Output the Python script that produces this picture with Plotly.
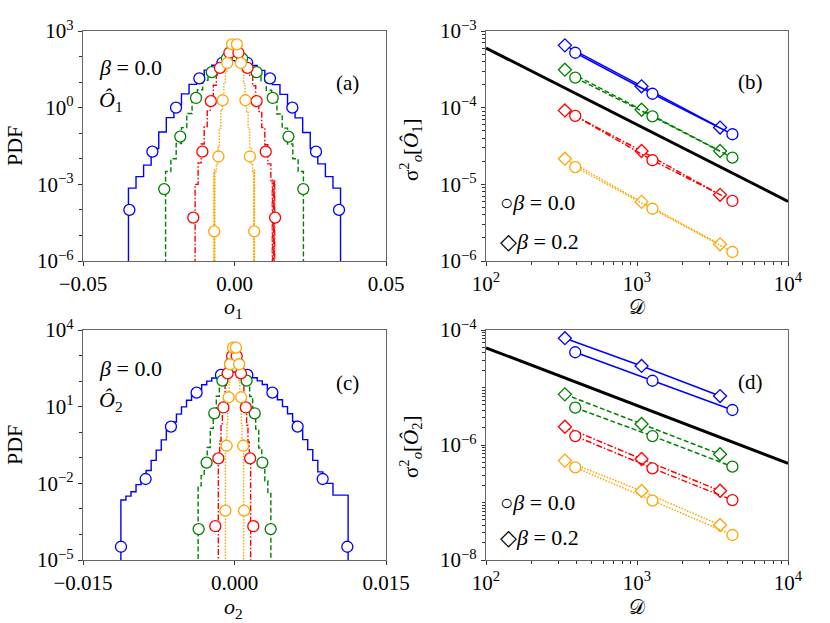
import numpy as np
import plotly.graph_objects as go
from plotly.subplots import make_subplots

# colours of the four series (same in every panel)
BLUE, GREEN, RED, ORANGE = "#0000ff", "#008000", "#ff0000", "#ffa500"

# ---------------- panel (a): PDF of o_1, beta = 0.0 ----------------
# step histograms: bin edges + log10(PDF)
a_blue_edges = np.linspace(-0.035, 0.035, 29)
a_blue_logpdf = [-3.15, -2.7, -2.25, -1.6, -0.95, -0.39, 0.10, 0.54, 0.91, 1.22, 1.47, 1.66, 1.78, 1.84,
                 1.83, 1.77, 1.65, 1.46, 1.2, 0.9, 0.52, 0.08, -0.4, -0.97, -1.6, -2.2, -2.7, -3.15]
a_green_edges = np.linspace(-0.02275, 0.02275, 27)
a_green_logpdf = [-2.5, -2.0, -1.4, -0.78, -0.23, 0.27, 0.70, 1.07, 1.38, 1.62, 1.81, 1.93, 1.99,
                  1.98, 1.92, 1.80, 1.60, 1.37, 1.05, 0.68, 0.25, -0.25, -0.8, -1.42, -2.0, -2.5]
a_red_edges = np.linspace(-0.013, 0.013, 27)
a_red_logpdf = [-3.0, -2.16, -1.42, -0.74, -0.13, 0.40, 0.88, 1.28, 1.62, 1.89, 2.09, 2.22, 2.29,
                2.28, 2.21, 2.08, 1.88, 1.60, 1.27, 0.86, 0.38, -0.15, -0.78, -1.45, -2.2, -2.85]
a_orange_edges = np.linspace(-0.0065, 0.0065, 27)
a_orange_logpdf = [-2.5, -2.2, -1.55, -0.80, -0.13, 0.46, 0.98, 1.43, 1.80, 2.10, 2.32, 2.47, 2.54,
                   2.53, 2.46, 2.31, 2.08, 1.78, 1.41, 0.95, 0.43, -0.16, -0.85, -1.6, -2.2, -2.5]
# sparse far-tail bins (0 = empty bin)
a_red_tail_edges = [0.0124, 0.01255, 0.0128, 0.01295, 0.0132, 0.01335]
a_red_tail_pdf = [1.5e-3, 0, 1.2e-3, 0, 1.4e-3]
a_orange_tailL_edges = [-0.0069, -0.0068, -0.00665, -0.00655]
a_orange_tailL_pdf = [3e-3, 0, 4e-3]
a_orange_tailR_edges = [0.0063, 0.0064, 0.00655, 0.00665]
a_orange_tailR_pdf = [3.5e-3, 0, 4e-3]
# open markers
a_blue_mx = [-0.0347, -0.0271, -0.0193, -0.0116, -0.0040, 0.0042, 0.0117, 0.0191, 0.0269, 0.0345]
a_blue_my = [1.0e-4, 0.019, 1.0, 14, 57, 57, 14, 1.0, 0.019, 1.0e-4]
a_green_mx = [-0.0232, -0.0179, -0.0127, -0.0075, -0.0025, 0.0025, 0.0073, 0.0126, 0.0178, 0.0227]
a_green_my = [6.5e-4, 0.074, 2.4, 24.5, 85, 85, 24.5, 2.4, 0.074, 6.5e-4]
a_red_mx = [-0.0136, -0.0106, -0.0078, -0.0048, -0.0017, 0.0013, 0.0043, 0.0073, 0.0103, 0.0134]
a_red_my = [5e-5, 0.019, 1.8, 36, 141, 141, 36, 1.8, 0.019, 5e-5]
a_orange_mx = [-0.0067, -0.0053, -0.0039, -0.0024, -0.0008, 0.0008, 0.0021, 0.0036, 0.0051, 0.0065]
a_orange_my = [1.45e-5, 0.0123, 1.95, 56, 300, 300, 56, 1.95, 0.0123, 1.45e-5]

# ---------------- panel (c): PDF of o_2, beta = 0.0 ----------------
c_blue_edges = np.linspace(-0.01125, 0.01125, 46)
c_blue_logpdf = [-2.65, -2.5, -2.33, -2.05, -1.85, -1.5, -1.1, -0.7, -0.3, 0.07, 0.4, 0.71, 0.99, 1.25, 1.48,
                 1.68, 1.86, 2.0, 2.12, 2.22, 2.29, 2.33, 2.35, 2.34, 2.3, 2.23, 2.13, 2.01, 1.87, 1.69, 1.5,
                 1.27, 1.0, 0.72, 0.42, 0.08, -0.29, -0.68, -1.1, -1.55, -2.0, -2.0, -2.46, -2.46, -2.46]
c_green_edges = np.linspace(-0.0036, 0.0036, 25)
c_green_logpdf = [-2.1, -1.7, -1.3, -0.6, 0.15, 0.84, 1.41, 1.89, 2.27, 2.55, 2.74, 2.84,
                  2.84, 2.73, 2.54, 2.26, 1.88, 1.40, 0.82, 0.12, -0.62, -1.35, -1.9, -2.4]
c_red_edges = np.linspace(-0.0016, 0.0016, 25)
c_red_logpdf = [-1.05, -0.35, 0.29, 0.88, 1.39, 1.84, 2.23, 2.55, 2.81, 3.0, 3.13, 3.19,
                3.19, 3.12, 2.99, 2.8, 2.54, 2.22, 1.83, 1.37, 0.86, 0.27, -0.38, -1.1]
c_orange_edges = np.linspace(-0.0009, 0.0009, 25)
c_orange_logpdf = [-0.5, -0.2, 0.31, 0.93, 1.48, 1.96, 2.37, 2.72, 2.99, 3.19, 3.32, 3.39,
                   3.39, 3.31, 3.18, 2.98, 2.71, 2.36, 1.95, 1.47, 0.92, 0.3, -0.22, -0.5]
c_blue_mx = [-0.01124, -0.0088, -0.00629, -0.00375, -0.00134, 0.00127, 0.00375, 0.00625, 0.00873, 0.01117]
c_blue_my = [3.3e-5, 0.0148, 1.66, 35.5, 174, 174, 35.5, 1.66, 0.0148, 3.3e-5]
c_green_mx = [-0.00355, -0.00276, -0.0020, -0.0012, -0.0004, 0.0004, 0.0012, 0.0020, 0.00276, 0.00358]
c_green_my = [1.62e-4, 0.065, 5.5, 105, 500, 500, 105, 5.5, 0.065, 1.62e-4]
c_red_mx = [-0.0019, -0.0016, -0.0011, -0.00068, -0.00024, 0.00022, 0.00064, 0.00112, 0.00155, 0.00186]
c_red_my = [2.1e-4, 0.095, 9.3, 200, 955, 955, 200, 9.3, 0.095, 2.1e-4]
c_orange_mx = [-0.0009, -0.00078, -0.00058, -0.00044, -0.00014, 0.00014, 0.00046, 0.00066, 0.00086, 0.00095]
c_orange_my = [8.5e-4, 0.295, 23.4, 457, 2040, 2040, 457, 23.4, 0.295, 8.5e-4]

# ---------------- panels (b), (d): variance vs D ----------------
D_beta00 = [390, 1266, 4285]
D_beta02 = [333, 1072, 3548]
ref_D = [1e2, 1e4]

b_blue_b00 = [5.2e-4, 1.52e-4, 4.5e-5]
b_blue_b02 = [6.5e-4, 1.9e-4, 5.5e-5]
b_green_b00 = [2.46e-4, 7.7e-5, 2.23e-5]
b_green_b02 = [3.13e-4, 9.4e-5, 2.72e-5]
b_red_b00 = [7.8e-5, 2.06e-5, 6.07e-6]
b_red_b02 = [9.2e-5, 2.72e-5, 7.3e-6]
b_orange_b00 = [1.68e-5, 4.8e-6, 1.31e-6]
b_orange_b02 = [2.16e-5, 5.9e-6, 1.65e-6]
b_ref = [6.0e-4, 6.0e-6]

d_blue_b00 = [4.1e-5, 1.31e-5, 4.06e-6]
d_blue_b02 = [7.2e-5, 2.37e-5, 7.1e-6]
d_green_b00 = [4.46e-6, 1.43e-6, 4.2e-7]
d_green_b02 = [7.6e-6, 2.32e-6, 6.9e-7]
d_red_b00 = [1.43e-6, 3.93e-7, 1.1e-7]
d_red_b02 = [2.08e-6, 5.7e-7, 1.6e-7]
d_orange_b00 = [4.09e-7, 1.08e-7, 2.72e-8]
d_orange_b02 = [5.35e-7, 1.59e-7, 4.06e-8]
d_ref = [4.9e-5, 4.8e-7]

FLOOR = 1e-12  # stand-in for empty bins on the log axis
DASH = {BLUE: "solid", GREEN: "5px,2.5px", RED: "6px,2px,1.5px,2px", ORANGE: "1.5px,1.5px"}


def step_trace(edges, pdf, color, xa, ya, width=1.4):
    pdf = [v if v > 0 else FLOOR for v in pdf]
    xs = [edges[0]] + list(edges)
    ys = [FLOOR] + pdf + [FLOOR]
    return go.Scatter(x=xs, y=ys, mode="lines", line_shape="hv", xaxis=xa, yaxis=ya,
                      line=dict(color=color, width=width, dash=DASH[color]), hoverinfo="skip")


def marker_trace(x, y, color, xa, ya, symbol="circle", mode="markers"):
    size = 11 if symbol == "circle" else 10
    return go.Scatter(x=x, y=y, mode=mode, xaxis=xa, yaxis=ya,
                      line=dict(color=color, width=1.5, dash=DASH[color]),
                      marker=dict(symbol=symbol, size=size, color="white", line=dict(color=color, width=1.3)))


fig = make_subplots(rows=2, cols=2)

hists_a = [
    (a_blue_edges, a_blue_logpdf, a_blue_mx, a_blue_my, BLUE),
    (a_green_edges, a_green_logpdf, a_green_mx, a_green_my, GREEN),
    (a_red_edges, a_red_logpdf, a_red_mx, a_red_my, RED),
    (a_orange_edges, a_orange_logpdf, a_orange_mx, a_orange_my, ORANGE),
]
hists_c = [
    (c_blue_edges, c_blue_logpdf, c_blue_mx, c_blue_my, BLUE),
    (c_green_edges, c_green_logpdf, c_green_mx, c_green_my, GREEN),
    (c_red_edges, c_red_logpdf, c_red_mx, c_red_my, RED),
    (c_orange_edges, c_orange_logpdf, c_orange_mx, c_orange_my, ORANGE),
]
for hists, xa, ya in [(hists_a, "x", "y"), (hists_c, "x3", "y3")]:
    for edges, logpdf, mx, my, col in hists:
        fig.add_trace(step_trace(edges, [10 ** v for v in logpdf], col, xa, ya))
    if xa == "x":
        fig.add_trace(step_trace(a_red_tail_edges, a_red_tail_pdf, RED, xa, ya, width=0.9))
        fig.add_trace(step_trace(a_orange_tailL_edges, a_orange_tailL_pdf, ORANGE, xa, ya, width=0.9))
        fig.add_trace(step_trace(a_orange_tailR_edges, a_orange_tailR_pdf, ORANGE, xa, ya, width=0.9))
    for edges, logpdf, mx, my, col in hists:
        fig.add_trace(marker_trace(mx, my, col, xa, ya))

var_b = [(b_blue_b00, b_blue_b02, BLUE), (b_green_b00, b_green_b02, GREEN),
         (b_red_b00, b_red_b02, RED), (b_orange_b00, b_orange_b02, ORANGE)]
var_d = [(d_blue_b00, d_blue_b02, BLUE), (d_green_b00, d_green_b02, GREEN),
         (d_red_b00, d_red_b02, RED), (d_orange_b00, d_orange_b02, ORANGE)]
for series, ref, xa, ya in [(var_b, b_ref, "x2", "y2"), (var_d, d_ref, "x4", "y4")]:
    fig.add_trace(go.Scatter(x=ref_D, y=ref, mode="lines", xaxis=xa, yaxis=ya,
                             line=dict(color="black", width=3)))
    for v00, v02, col in series:
        fig.add_trace(marker_trace(D_beta02, v02, col, xa, ya, symbol="diamond", mode="lines+markers"))
        fig.add_trace(marker_trace(D_beta00, v00, col, xa, ya, symbol="circle", mode="lines+markers"))


def pw(n):
    return "10<sup>" + str(n).replace("-", "−") + "</sup>"


axis_style = dict(showline=True, mirror=True, linecolor="#666666", linewidth=1.2, ticks="outside",
                  ticklen=4, tickwidth=1, tickcolor="#333333", showgrid=False, zeroline=False,
                  automargin=False, tickfont=dict(size=21, color="black"))
minor_log = dict(ticks="outside", ticklen=2.5, tickwidth=0.8, tickcolor="#333333", dtick="D1", showgrid=False)

X_LEFT = [83 / 830, 386 / 830]
X_RIGHT = [486 / 830, 788 / 830]
Y_TOP = [1 - 261 / 623, 1 - 31 / 623]
Y_BOT = [1 - 560 / 623, 1 - 330 / 623]

fig.update_xaxes(axis_style)
fig.update_yaxes(axis_style)

fig.update_xaxes(row=1, col=1, domain=X_LEFT, range=[-0.05, 0.05], tickvals=[-0.05, 0, 0.05],
                 ticktext=["−0.05", "0.00", "0.05"])
fig.update_yaxes(row=1, col=1, domain=Y_TOP, type="log", range=[-6, 3],
                 tickvals=[1e-6, 1e-3, 1, 1e3], ticktext=[pw(-6), pw(-3), pw(0), pw(3)],
                 minor=dict(ticks="outside", ticklen=2.5, tickwidth=0.8, tickcolor="#333333", dtick=1))
fig.update_xaxes(row=2, col=1, domain=X_LEFT, range=[-0.015, 0.015], tickvals=[-0.015, 0, 0.015],
                 ticktext=["−0.015", "0.000", "0.015"])
fig.update_yaxes(row=2, col=1, domain=Y_BOT, type="log", range=[-5, 4],
                 tickvals=[1e-5, 1e-2, 1e1, 1e4], ticktext=[pw(-5), pw(-2), pw(1), pw(4)],
                 minor=dict(ticks="outside", ticklen=2.5, tickwidth=0.8, tickcolor="#333333", dtick=1))
for r in (1, 2):
    fig.update_xaxes(row=r, col=2, domain=X_RIGHT, type="log", range=[2, 4],
                     tickvals=[1e2, 1e3, 1e4], ticktext=[pw(2), pw(3), pw(4)], minor=minor_log)
fig.update_yaxes(row=1, col=2, domain=Y_TOP, type="log", range=[-6, -3],
                 tickvals=[1e-6, 1e-5, 1e-4, 1e-3], ticktext=[pw(-6), pw(-5), pw(-4), pw(-3)], minor=minor_log)
fig.update_yaxes(row=2, col=2, domain=Y_BOT, type="log", range=[-8, -4],
                 tickvals=[1e-8, 1e-6, 1e-4], ticktext=[pw(-8), pw(-6), pw(-4)], minor=minor_log)


def px(x, y):
    return x / 830, 1 - y / 623


annotations = []


def note(text, x, y, size=21, anchor="center", angle=0):
    ax, ay = px(x, y)
    annotations.append(dict(text=text, x=ax, y=ay, xref="paper", yref="paper", showarrow=False,
                            xanchor=anchor, yanchor="middle", textangle=angle,
                            font=dict(size=size, color="black")))


note("(a)", 347, 83)
note("(b)", 750, 82)
note("(c)", 347, 383)
note("(d)", 750, 382)
note("<i>β</i> = 0.0", 97, 68, size=22, anchor="left")
note("<i>Ô</i><sub>1</sub>", 97, 101, size=22, anchor="left")
note("<i>β</i> = 0.0", 97, 368, size=22, anchor="left")
note("<i>Ô</i><sub>2</sub>", 97, 401, size=22, anchor="left")
for y0, y1 in [(202, 241), (502, 537)]:
    note("○<i>β</i> = 0.0", 498, y0, size=22, anchor="left")
    note("◇<i>β</i> = 0.2", 498, y1, size=22, anchor="left")
note("PDF", 14, 146, size=22, angle=-90)
note("PDF", 14, 445, size=22, angle=-90)
note("<i>o</i><sub>1</sub>", 233, 308, size=22)
note("<i>o</i><sub>2</sub>", 233, 608, size=22)
note("𝒟", 637, 307, size=20)
note("𝒟", 637, 607, size=20)
note("σ<sup>2</sup><sub><i>o</i></sub>[<i>Ô</i><sub>1</sub>]", 410, 150, size=21, angle=-90)
note("σ<sup>2</sup><sub><i>o</i></sub>[<i>Ô</i><sub>2</sub>]", 410, 447, size=21, angle=-90)

fig.update_layout(
    width=830, height=623, margin=dict(l=0, r=0, t=0, b=0),
    paper_bgcolor="white", plot_bgcolor="white", showlegend=False,
    font=dict(family="Liberation Serif, DejaVu Serif, serif", size=21, color="black"),
    annotations=annotations,
)
# the page's default body margin would shift the 830x623 figure by 8px
fig.write_html("out.html", config={"displayModeBar": False},
               post_script="document.body.style.margin = '0px';")
